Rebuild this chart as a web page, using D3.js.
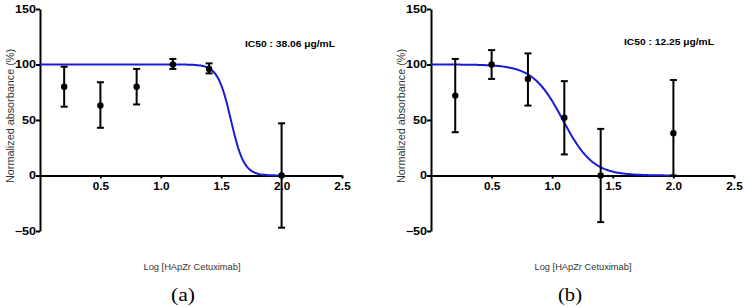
<!DOCTYPE html>
<html>
<head>
<meta charset="utf-8">
<script src="https://cdn.jsdelivr.net/npm/d3@7"></script>
<style>
  body { margin: 0; background: #fff; }
  svg { display: block; }
</style>
</head>
<body>
<svg id="chart" width="744" height="307"></svg>
<script>
// data
var doseA = [0.2, 0.5, 0.8, 1.1, 1.4, 2.0];
var meanA = [80, 63, 80, 100, 96, 0];
var lowA  = [62, 43, 64, 96, 92, -47];
var highA = [98, 84, 96, 105, 101, 47];

var doseB = [0.2, 0.5, 0.8, 1.1, 1.4, 2.0];
var meanB = [72, 100, 87, 52, 0, 38];
var lowB  = [39, 87, 63, 19, -42, 0];
var highB = [105, 113, 110, 85, 42, 86];

var xTicks = [0.5, 1.0, 1.5, 2.0, 2.5];
var yTicks = [-50, 0, 50, 100, 150];

var ic50A = 38.06, hillA = 8;
var ic50B = 12.25, hillB = 3.5;

var sans = "'Liberation Sans', Arial, sans-serif";
var serif = "'Liberation Serif', 'Times New Roman', serif";

var svg = d3.select("#chart");

var drawPanel = function(opts){
  var g = svg.append("g");

  var xScale = d3.scaleLinear().domain([0, 2.5]).range([opts.left, opts.right]);
  var yScale = d3.scaleLinear().domain([-50, 150]).range([231, 9]);

  // y axis
  var yAxis = d3.axisLeft(yScale).tickValues(yTicks).tickSize(4).tickSizeOuter(0)
                .tickFormat(d3.format("d"));
  var ya = g.append("g").attr("transform", "translate(" + opts.left + ",0)").call(yAxis);
  ya.select(".domain").attr("stroke", "#000").attr("stroke-width", 2);
  ya.selectAll(".tick line").attr("stroke", "#000").attr("stroke-width", 2);
  ya.selectAll(".tick text")
    .attr("x", -4 / 1.2)
    .attr("transform", "scale(1.2,1)")
    .style("font-family", sans)
    .style("font-size", "10.5px").style("font-weight", "bold").attr("fill", "#000");

  // x axis along y = 0
  var xAxis = d3.axisBottom(xScale).tickValues(xTicks).tickSize(3).tickSizeOuter(0)
                .tickFormat(d3.format(".1f"));
  var xa = g.append("g").attr("transform", "translate(0," + yScale(0) + ")").call(xAxis);
  xa.select(".domain").attr("stroke", "#000").attr("stroke-width", 2);
  xa.selectAll(".tick line").attr("stroke", "#000").attr("stroke-width", 2);
  xa.selectAll(".tick text")
    .attr("y", 7)
    .attr("transform", "scale(1.12,1)")
    .style("font-family", sans)
    .style("font-size", "10.5px").style("font-weight", "bold").attr("fill", "#000");

  // fitted curve
  var curveX = d3.range(0, 2.0001, 0.01);
  var line = d3.line()
    .x(function(d){ return xScale(d); })
    .y(function(d){
      return yScale(100 / (1 + Math.pow(10, (d - Math.log10(opts.ic50)) * opts.hill)));
    });
  g.append("path").datum(curveX)
    .attr("d", line)
    .attr("fill", "none")
    .attr("stroke", "#1a1ad8")
    .attr("stroke-width", 2);

  // error bars
  var pts = opts.dose.map(function(d, i){
    return {x: d, m: opts.mean[i], lo: opts.low[i], hi: opts.high[i]};
  });
  var bars = g.selectAll(".err").data(pts).enter().append("g");
  bars.append("line")
    .attr("x1", function(d){ return xScale(d.x); })
    .attr("x2", function(d){ return xScale(d.x); })
    .attr("y1", function(d){ return yScale(d.lo); })
    .attr("y2", function(d){ return yScale(d.hi); })
    .attr("stroke", "#000").attr("stroke-width", 2);
  ["lo", "hi"].forEach(function(k){
    bars.append("line")
      .attr("x1", function(d){ return xScale(d.x) - 3.5; })
      .attr("x2", function(d){ return xScale(d.x) + 3.5; })
      .attr("y1", function(d){ return yScale(d[k]); })
      .attr("y2", function(d){ return yScale(d[k]); })
      .attr("stroke", "#000").attr("stroke-width", 2);
  });
  bars.append("circle")
    .attr("cx", function(d){ return xScale(d.x); })
    .attr("cy", function(d){ return yScale(d.m); })
    .attr("r", 3.2)
    .attr("fill", "#000");

  // texts
  g.append("text")
    .attr("transform", "translate(" + (opts.left - 26) + ",116) rotate(-90)")
    .attr("text-anchor", "middle")
    .attr("textLength", 134).attr("lengthAdjust", "spacingAndGlyphs")
    .style("font-family", sans)
    .style("font-size", "10.5px").attr("fill", "#333")
    .text("Normalized absorbance (%)");

  g.append("text")
    .attr("x", opts.xlabX).attr("y", 270)
    .attr("text-anchor", "middle")
    .attr("textLength", 97).attr("lengthAdjust", "spacingAndGlyphs")
    .style("font-family", sans)
    .style("font-size", "8.5px").attr("fill", "#333")
    .text("Log [HApZr Cetuximab]");

  g.append("text")
    .attr("x", opts.icX).attr("y", opts.icY)
    .attr("textLength", 90).attr("lengthAdjust", "spacingAndGlyphs")
    .style("font-family", sans)
    .style("font-size", "8.5px").style("font-weight", "bold").attr("fill", "#000")
    .text("IC50 : " + opts.ic50.toFixed(2) + " \u03bcg/mL");

  g.append("text")
    .attr("x", opts.tagX).attr("y", 301)
    .attr("text-anchor", "middle")
    .attr("textLength", 24).attr("lengthAdjust", "spacingAndGlyphs")
    .style("font-family", serif)
    .style("font-size", "18px").attr("fill", "#000")
    .text(opts.tag);
};

drawPanel({left: 40, right: 342, dose: doseA, mean: meanA, low: lowA, high: highA,
           ic50: ic50A, hill: hillA, icX: 245, icY: 47, xlabX: 192, tagX: 183, tag: "(a)"});
drawPanel({left: 431, right: 734, dose: doseB, mean: meanB, low: lowB, high: highB,
           ic50: ic50B, hill: hillB, icX: 624, icY: 45, xlabX: 583, tagX: 570, tag: "(b)"});
</script>
</body>
</html>
